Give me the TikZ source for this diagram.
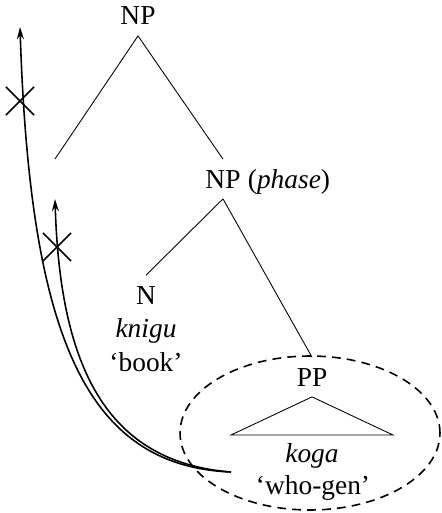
\documentclass[tikz,border=0pt]{standalone}
\usepackage{fontspec}
\setmainfont{Liberation Serif}
\usetikzlibrary{arrows.meta, shapes.misc, shapes.geometric}

\begin{document}
\begin{tikzpicture}[
    x=0.02cm, y=-0.02cm,
    every node/.style={font=\fontsize{15.6}{18}\selectfont},
    cat/.style={inner xsep=0pt, inner ysep=6pt, anchor=base},
    gloss/.style={inner sep=0pt, anchor=base},
    branch/.style={line width=0.5pt},
    move/.style={line width=0.9pt, -{Stealth[length=7pt, width=4pt]}},
    blocked/.style={draw, cross out, line width=1pt, minimum size=15pt, inner sep=0pt},
    phasering/.style={draw, ellipse, line width=0.9pt, dash pattern=on 5pt off 3.5pt,
      minimum width=5.2cm, minimum height=3.08cm, inner sep=0pt}
  ]
  \useasboundingbox (0,0) rectangle (441,513);

  \node[phasering] (domain) at (310,433) {};

  \node[cat] (np) at (138,25) {NP};
  \node[cat] (npph) at (223,188) {NP};
  \node[gloss, anchor=base west] (phaselbl) at ([xshift=3.8pt]npph.base east) {(\textit{phase})};
  \node[cat] (n) at (146,304) {N};
  \node[gloss] (knigu) at (146,337) {\textit{knigu}};
  \node[gloss] (book) at (146,371) {`book'};
  \node[cat] (pp) at (312,386) {PP};
  \node[gloss] (koga) at (312,462) {\textit{koga}};
  \node[gloss] (whogen) at (313,494) {`who-gen'};

  \coordinate (lefttop) at (55,159);
  \draw[branch] (np.south) -- (lefttop);
  \draw[branch] (np.south) -- (npph.north);
  \draw[branch] (npph.south) -- (n.north);
  \draw[branch] (npph.south) -- (pp.north);
  \draw[branch] (pp.south) -- (231,435) -- (393,435) -- cycle;

  \coordinate (launch) at (231,472);
  \coordinate (tipouter) at (20,27);
  \coordinate (tipinner) at (55,199);
  \draw[move] (launch) .. controls (85,466) and (30,335) .. (tipouter);
  \draw[move] (launch) .. controls (105,462) and (60,365) .. (tipinner);
  \node[blocked] (xouter) at (20,101) {};
  \node[blocked] (xinner) at (57,247) {};
\end{tikzpicture}
\end{document}
